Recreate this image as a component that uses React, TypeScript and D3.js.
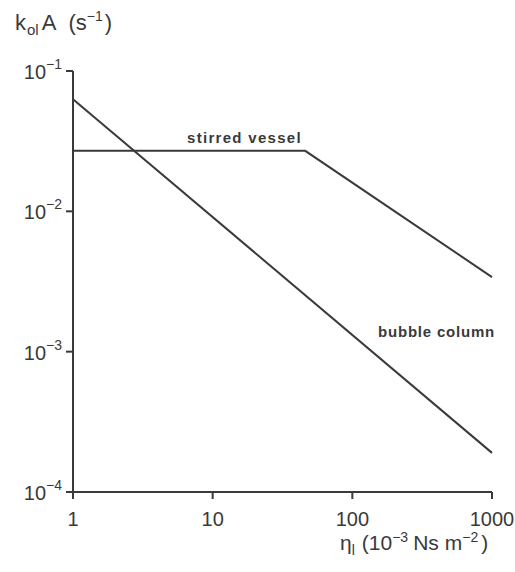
import React from "react";
import * as d3 from "d3";

// Viscosity (10^-3 Ns m^-2) and volumetric mass-transfer coefficient kolA (s^-1)
const bubbleEta = [1, 1000];
const bubbleK = [0.063, 1.9e-4];
const stirredEta = [1, 46, 1000];
const stirredK = [0.027, 0.027, 3.4e-3];

const xTicks = [1, 10, 100, 1000];
const xTickLabels = ["1", "10", "100", "1000"];
const yTicks = [1e-1, 1e-2, 1e-3, 1e-4];
const yTickExps = ["\u22121", "\u22122", "\u22123", "\u22124"];

const W = 515;
const H = 572;
const INK = "#3a3a3a";
const FONT = "'Liberation Sans', Arial, sans-serif";

export default function App() {
  const x = d3.scaleLog().domain([1, 1000]).range([73, 492]);
  const y = d3.scaleLog().domain([1e-4, 1e-1]).range([492, 71]);

  const line = d3
    .line<[number, number]>()
    .x((d) => x(d[0]))
    .y((d) => y(d[1]));

  const bubble = bubbleEta.map((e, i) => [e, bubbleK[i]] as [number, number]);
  const stirred = stirredEta.map((e, i) => [e, stirredK[i]] as [number, number]);

  const x0 = x(1);
  const y0 = y(1e-4);

  return (
    <svg
      width={W}
      height={H}
      style={{ position: "absolute", left: 0, top: 0, background: "#fff" }}
      fontFamily={FONT}
    >
      {/* axes */}
      <line x1={x0} x2={x0} y1={y(1e-1)} y2={y0} stroke={INK} strokeWidth={2} />
      <line x1={x0} x2={x(1000)} y1={y0} y2={y0} stroke={INK} strokeWidth={2} />
      {yTicks.map((t, i) => (
        <g key={"y" + i}>
          <line x1={x0 - 7} x2={x0} y1={y(t)} y2={y(t)} stroke={INK} strokeWidth={2} />
          <text x={x0 - 11} y={y(t) + 8} textAnchor="end" fontSize={20} fill={INK}>
            10
            <tspan dy={-10} fontSize={14}>
              {yTickExps[i]}
            </tspan>
          </text>
        </g>
      ))}
      {xTicks.map((t, i) => (
        <g key={"x" + i}>
          <line x1={x(t)} x2={x(t)} y1={y0} y2={y0 + 7} stroke={INK} strokeWidth={2} />
          <text x={x(t)} y={526} textAnchor="middle" fontSize={20} fill={INK}>
            {xTickLabels[i]}
          </text>
        </g>
      ))}

      {/* correlations */}
      <path d={line(bubble) || ""} fill="none" stroke={INK} strokeWidth={2} />
      <path d={line(stirred) || ""} fill="none" stroke={INK} strokeWidth={2} />

      <text x={187} y={143} fontSize={15} fontWeight="bold" fill={INK} letterSpacing={1.3}>
        stirred vessel
      </text>
      <text x={378} y={337} fontSize={15} fontWeight="bold" fill={INK} letterSpacing={0.8}>
        bubble column
      </text>

      {/* axis titles */}
      <text x={15} y={30} fontSize={22} fill={INK}>
        k
        <tspan fontSize={15} dy={5} dx={1}>ol</tspan>
        <tspan fontSize={22} dy={-5} dx={3}>A</tspan>
        <tspan dx={12}>(s</tspan>
        <tspan fontSize={14} dy={-9}>{"\u22121"}</tspan>
        <tspan dy={9} dx={2}>)</tspan>
      </text>
      <text x={340} y={550} fontSize={21} fill={INK}>
        {"\u03b7"}
        <tspan fontSize={14} dy={5}>l</tspan>
        <tspan dy={-5} dx={7}>(10</tspan>
        <tspan fontSize={14} dy={-8}>{"\u22123"}</tspan>
        <tspan dy={8} dx={5}>Ns</tspan>
        <tspan dx={6}>m</tspan>
        <tspan fontSize={14} dy={-8}>{"\u22122"}</tspan>
        <tspan dy={8} dx={3}>)</tspan>
      </text>
    </svg>
  );
}
